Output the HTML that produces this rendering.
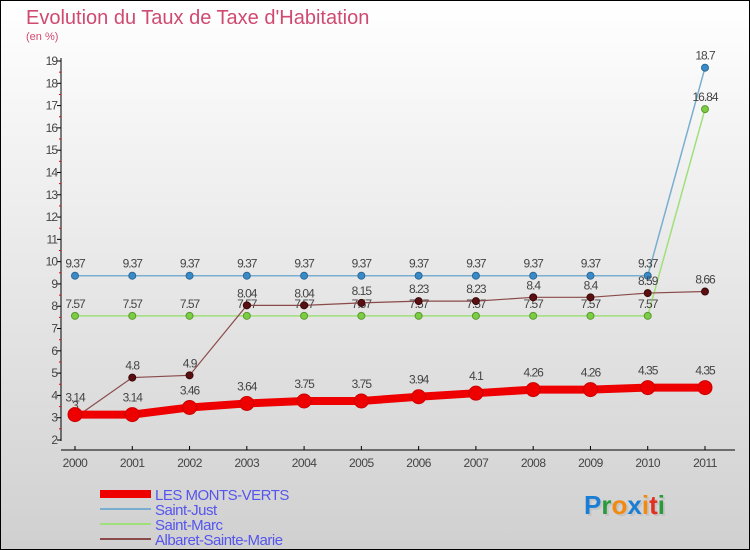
<!DOCTYPE html>
<html><head><meta charset="utf-8"><style>
body{margin:0}
#c{width:750px;height:550px;position:relative;overflow:hidden;box-sizing:border-box;border:1px solid #000;background:linear-gradient(#ffffff,#d0d0d0);font-family:"Liberation Sans",sans-serif}
</style></head><body>
<div id="c">
<svg id="s" width="750" height="550" style="position:absolute;left:-1px;top:-1px">
<text x="26" y="24" font-size="20" fill="#d04a70" font-weight="300">Evolution du Taux de Taxe d'Habitation</text>
<text x="26" y="40" font-size="11" fill="#d04a70">(en %)</text>
<g font-size="26" font-weight="bold">
<text x="586" y="516" fill="#bbb" opacity="0.6"><tspan>Proxiti</tspan></text>
<text x="584" y="514"><tspan fill="#1a7fd4">P</tspan><tspan fill="#2a9a3a">r</tspan><tspan fill="#f08a10">o</tspan><tspan fill="#1a7fd4">x</tspan><tspan fill="#f08a10">i</tspan><tspan fill="#e03020">t</tspan><tspan fill="#2a9a3a">i</tspan></text>
</g>
</svg>
</div>
<script>
const years=[2000,2001,2002,2003,2004,2005,2006,2007,2008,2009,2010,2011];
const yTicks=[2,3,4,5,6,7,8,9,10,11,12,13,14,15,16,17,18,19];
const montsVerts=[3.14,3.14,3.46,3.64,3.75,3.75,3.94,4.1,4.26,4.26,4.35,4.35];
const saintJust=[9.37,9.37,9.37,9.37,9.37,9.37,9.37,9.37,9.37,9.37,9.37,18.7];
const saintMarc=[7.57,7.57,7.57,7.57,7.57,7.57,7.57,7.57,7.57,7.57,7.57,16.84];
const albaret=[3,4.8,4.9,8.04,8.04,8.15,8.23,8.23,8.4,8.4,8.59,8.66];
const seriesNames=["LES MONTS-VERTS","Saint-Just","Saint-Marc","Albaret-Sainte-Marie"];
const svg=document.getElementById('s');const NS='http://www.w3.org/2000/svg';
const X=i=>75+i*(705-75)/(years.length-1);
const Y=v=>440-(v-2)*(440-61)/17;
function el(t,a,p){const e=document.createElementNS(NS,t);for(const k in a)e.setAttribute(k,a[k]);(p||svg).appendChild(e);return e;}
const ax=el('g',{});


el('line',{x1:61,y1:58,x2:61,y2:441,stroke:'#000'},ax);
el('line',{x1:61,y1:450,x2:735,y2:450,stroke:'#000'},ax);
yTicks.forEach(v=>{const y=Y(v);el('line',{x1:57,y1:y,x2:61,y2:y,stroke:'#000'},ax);
 if(v<19)el('line',{x1:59,y1:Y(v+0.5),x2:61,y2:Y(v+0.5),stroke:'#e00'},ax);
 const t=el('text',{x:57,y:y+4,'font-size':12,fill:'#444','text-anchor':'end','letter-spacing':'-1'},ax);t.textContent=v;
 
 });
years.forEach((yr,i)=>{const x=X(i);el('line',{x1:x,y1:446,x2:x,y2:450,stroke:'#000'},ax);
 const t=el('text',{x:x,y:467,'font-size':12,fill:'#444','text-anchor':'middle','letter-spacing':'-0.5'},ax);t.textContent=yr;
 
 });
function series(vals,color,w,r,dot,stroke,name,lblOff){
 const g=el('g',{});
 
 
 el('polyline',{points:vals.map((v,i)=>X(i)+','+Y(v)).join(' '),fill:'none',stroke:color,'stroke-width':w},g);
 vals.forEach((v,i)=>{const c=el('circle',{cx:X(i),cy:Y(v),r:r,fill:dot,stroke:stroke,'stroke-width':1},g);
  
  
  const t=el('text',{x:X(i),y:Y(v)-lblOff,'font-size':12,fill:'#444','text-anchor':'middle','letter-spacing':'-1'},g);t.textContent=v;});
}
series(saintJust,'#7aaed0',1.5,3.5,'#3a8ac8','#2a6a98','series-saint-just',8);
series(saintMarc,'#9fe07a',1.5,3.5,'#7ccc44','#5a9a30','series-saint-marc',8);
series(albaret,'#8a4a4a',1.2,3.5,'#5a1010','#3a0808','series-albaret-sainte-marie',8);
series(montsVerts,'#ee0000',8,7,'#ee0000','#cc0000','series-les-monts-verts',13);
const lg=el('g',{});


const lc=[['#ee0000',8],['#7aaed0',2],['#9fe07a',2],['#8a4a4a',2]];
seriesNames.forEach((n,i)=>{const y=494+i*15;
 el('line',{x1:100,y1:y,x2:151,y2:y,stroke:lc[i][0],'stroke-width':lc[i][1]},lg);
 const t=el('text',{x:155,y:y+6,'font-size':15,fill:'#5555ee','letter-spacing':'-0.5'},lg);t.textContent=n;
 
 });
</script>
</body></html>
